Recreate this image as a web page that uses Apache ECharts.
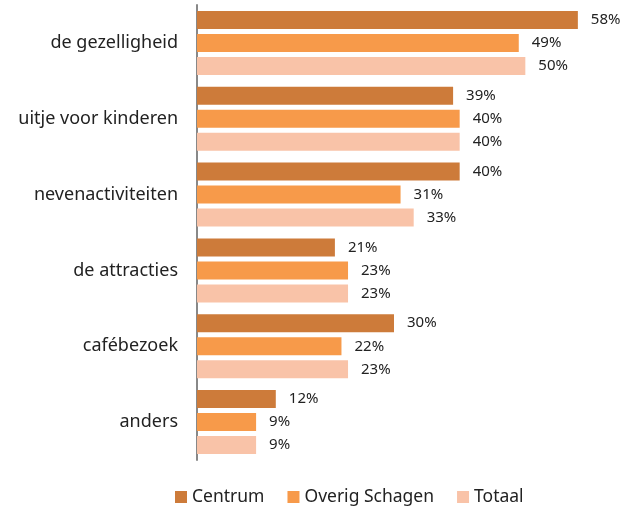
<!DOCTYPE html>
<html>
<head>
<meta charset="utf-8">
<script src="https://cdn.jsdelivr.net/npm/echarts@6/dist/echarts.min.js"></script>
<style>
  html, body { margin: 0; padding: 0; background: #fff; }
  #chart { width: 625px; height: 508px; }
</style>
</head>
<body>
<div id="chart"></div>
<script>
// categorieën en percentages
var categories = ['de gezelligheid', 'uitje voor kinderen', 'nevenactiviteiten', 'de attracties', 'cafébezoek', 'anders'];
var centrum = [58, 39, 40, 21, 30, 12];
var overigSchagen = [49, 40, 31, 23, 22, 9];
var totaal = [50, 40, 33, 23, 23, 9];
var seriesNames = ['Centrum', 'Overig Schagen', 'Totaal'];
var colors = ['#cd7b3a', '#f79a4a', '#f9c3a8'];

var myChart = echarts.init(document.getElementById('chart'));

function makeSeries(name, data, color) {
    return {
        name: name,
        type: 'bar',
        barWidth: 18,
        barGap: '28%',
        data: data,
        itemStyle: { color: color },
        label: {
            show: true,
            position: 'right',
            distance: 13,
            formatter: '{c}%',
            color: '#222',
            fontSize: 15,
            fontFamily: 'Noto Sans'
        }
    };
}

var option = {
    animation: false,
    color: colors,
    grid: { left: 197, right: 34, top: 5, bottom: 48 },
    legend: {
        bottom: -3,
        left: 170,
        itemWidth: 12,
        itemHeight: 12,
        itemGap: 23,
        icon: 'rect',
        textStyle: { fontSize: 17.5, color: '#222', fontFamily: 'Noto Sans' },
        data: seriesNames
    },
    xAxis: {
        type: 'value',
        min: 0,
        max: 60,
        show: false
    },
    yAxis: {
        type: 'category',
        inverse: true,
        data: categories,
        axisLine: { show: true, lineStyle: { color: '#888', width: 2 } },
        axisTick: { show: false },
        axisLabel: {
            margin: 19,
            fontSize: 18,
            color: '#222',
            fontFamily: 'Noto Sans'
        }
    },
    series: [
        makeSeries(seriesNames[0], centrum, colors[0]),
        makeSeries(seriesNames[1], overigSchagen, colors[1]),
        makeSeries(seriesNames[2], totaal, colors[2])
    ]
};
myChart.setOption(option);
</script>
</body>
</html>
